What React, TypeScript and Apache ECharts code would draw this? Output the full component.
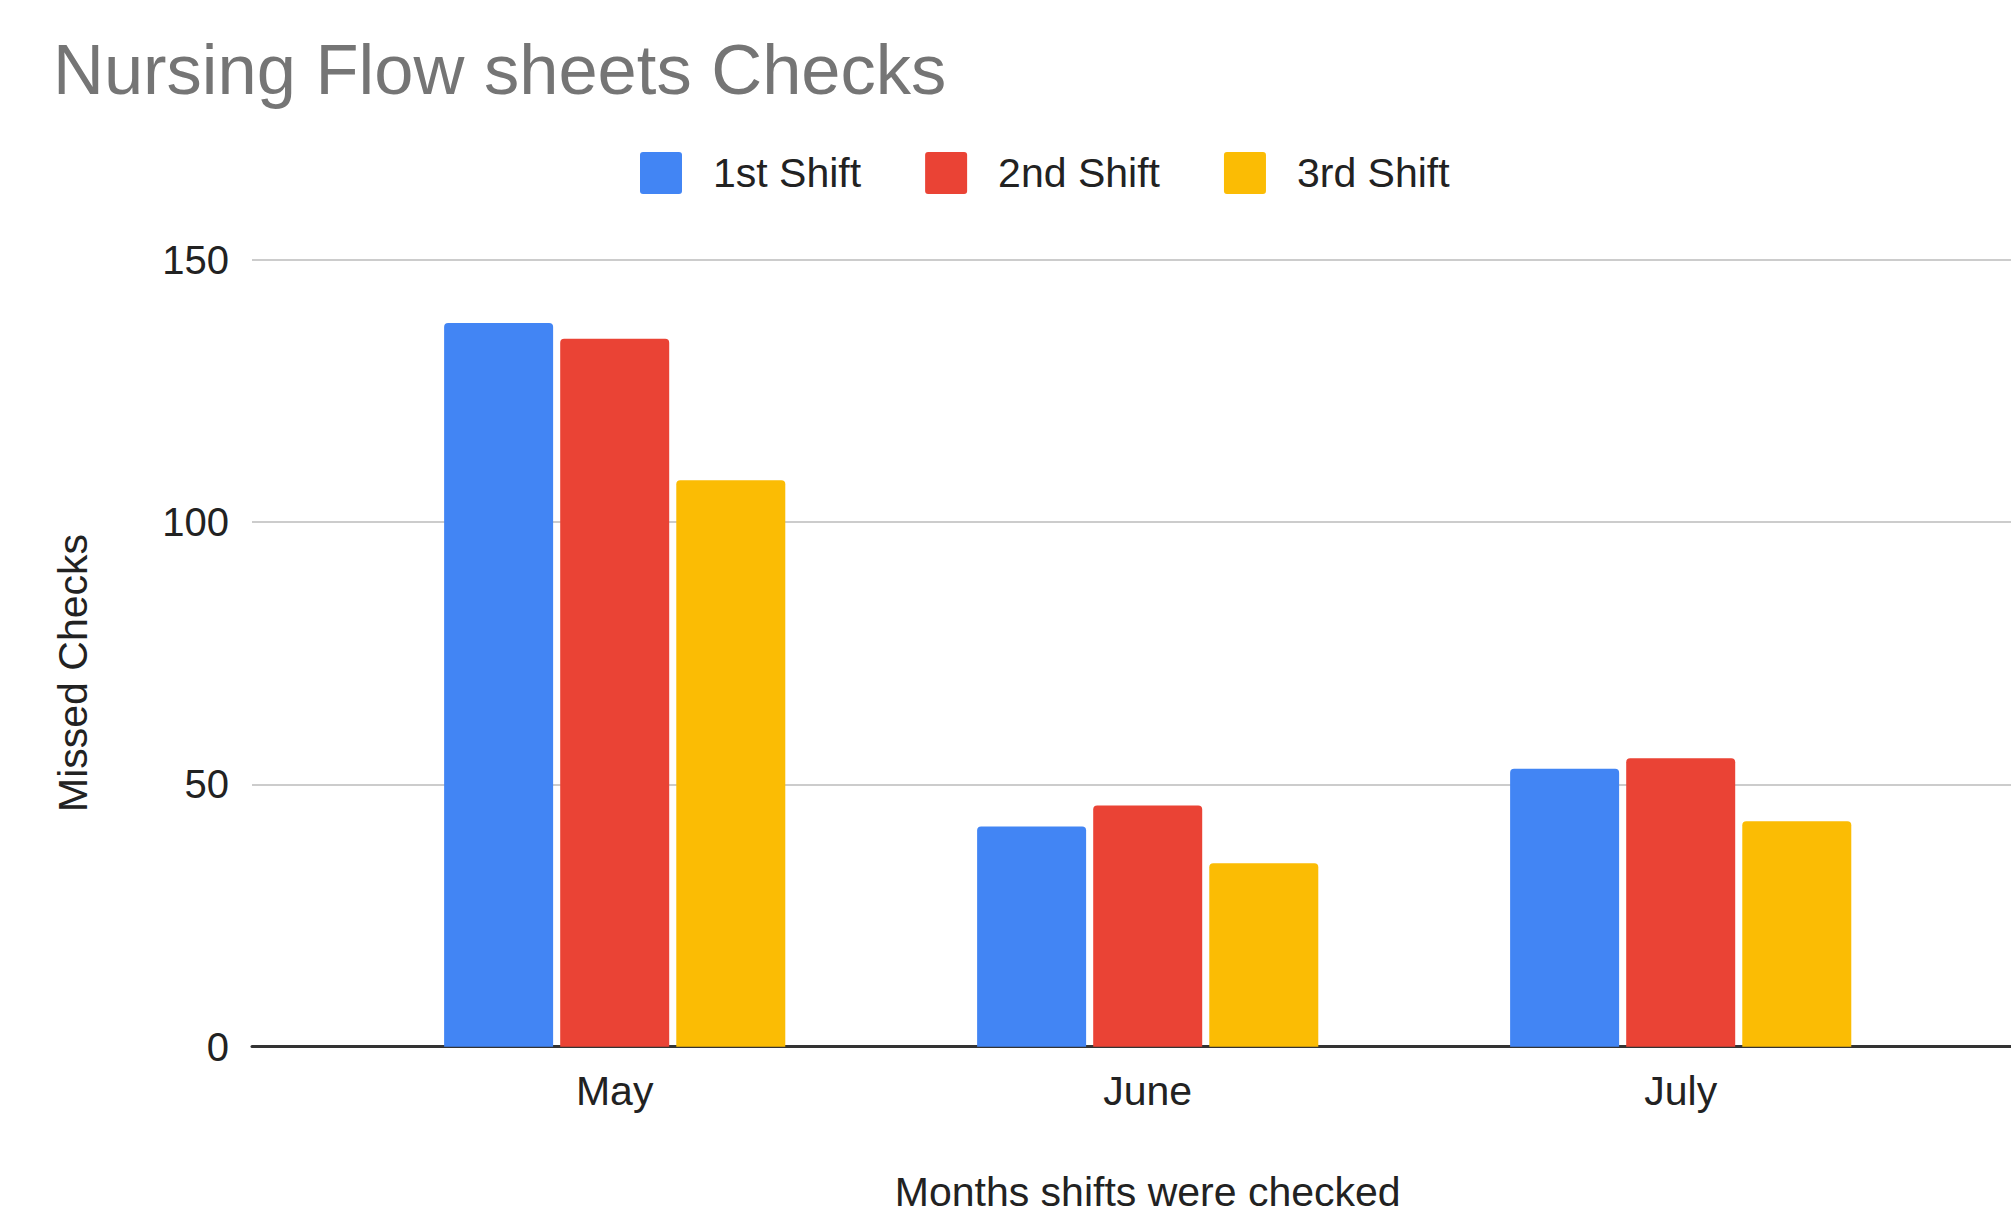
import React, { useEffect, useRef } from "react";
import * as echarts from "echarts";

const months = ["May", "June", "July"];
const seriesNames = ["1st Shift", "2nd Shift", "3rd Shift"];
const shift1 = [138, 42, 53];
const shift2 = [135, 46, 55];
const shift3 = [108, 35, 43];
const colors = ["#4285F4", "#EA4335", "#FBBC04"];
const yMin = 0;
const yMax = 150;
const yInterval = 50;

const FONT = "'Liberation Sans', Arial, Helvetica, sans-serif";
const LEGEND_ICON =
  "path://M3,0 H39 Q42,0 42,3 V39 Q42,42 39,42 H3 Q0,42 0,39 V3 Q0,0 3,0 Z";

export default function App() {
  const ref = useRef<HTMLDivElement>(null);
  useEffect(() => {
    const chart = echarts.init(ref.current as HTMLDivElement, null, { renderer: "svg" });
    const values = [shift1, shift2, shift3];
    chart.setOption({
      animation: false,
      backgroundColor: "#ffffff",
      textStyle: { fontFamily: FONT },
      title: {
        text: "Nursing Flow sheets Checks",
        left: 53,
        top: 34,
        padding: 0,
        textStyle: { fontFamily: FONT, fontSize: 70.5, fontWeight: "normal", color: "#757575" },
      },
      legend: {
        data: seriesNames,
        left: 640,
        top: 152,
        padding: 0,
        itemWidth: 42,
        itemHeight: 42,
        itemGap: 64,
        icon: LEGEND_ICON,
        textStyle: { fontFamily: FONT, fontSize: 41, color: "#222222", padding: [0, 0, 0, 26] },
      },
      graphic: [
        {
          type: "text",
          x: 73,
          y: 673,
          rotation: Math.PI / 2,
          style: {
            text: "Missed Checks",
            font: `41px ${FONT}`,
            fill: "#222222",
            align: "center",
            verticalAlign: "middle",
          },
        },
      ],
      grid: [
        { left: 252, right: 0, top: 260, bottom: 169.3, containLabel: false, outerBoundsMode: "none" },
        { left: 348.2, right: 63.8, top: 260, bottom: 169.3, containLabel: false, outerBoundsMode: "none" },
      ],
      xAxis: [
        {
          gridIndex: 0,
          type: "value",
          min: 0,
          max: 1,
          axisLine: { show: true, lineStyle: { color: "#333333", width: 3 } },
          axisTick: { show: false },
          axisLabel: { show: false },
          splitLine: { show: false },
        },
        {
          gridIndex: 1,
          type: "category",
          data: months,
          axisLine: { show: false },
          axisTick: { show: false },
          axisLabel: { fontFamily: FONT, fontSize: 41, color: "#222222", margin: 23.5 },
          name: "Months shifts were checked",
          nameLocation: "middle",
          nameGap: 128,
          nameTextStyle: { fontFamily: FONT, fontSize: 41, lineHeight: 34, color: "#222222" },
        },
      ],
      yAxis: [
        {
          gridIndex: 0,
          type: "value",
          min: yMin,
          max: yMax,
          interval: yInterval,
          axisLine: { show: false },
          axisTick: { show: false },
          axisLabel: { fontFamily: FONT, fontSize: 40, color: "#222222", margin: 23 },
          splitLine: { show: true, lineStyle: { color: "#cccccc", width: 2 } },
        },
        {
          gridIndex: 1,
          type: "value",
          min: yMin,
          max: yMax,
          interval: yInterval,
          show: false,
          splitLine: { show: false },
        },
      ],
      series: seriesNames.map((name, i) => ({
        name,
        type: "bar",
        xAxisIndex: 1,
        yAxisIndex: 1,
        data: values[i],
        barWidth: 109,
        barGap: "6.5%",
        itemStyle: { color: colors[i], borderRadius: [4, 4, 0, 0] },
      })),
    });
    return () => chart.dispose();
  }, []);
  return (
    <div
      ref={ref}
      style={{ position: "fixed", left: 0, top: 0, width: 2011, height: 1216, background: "#ffffff" }}
    />
  );
}
